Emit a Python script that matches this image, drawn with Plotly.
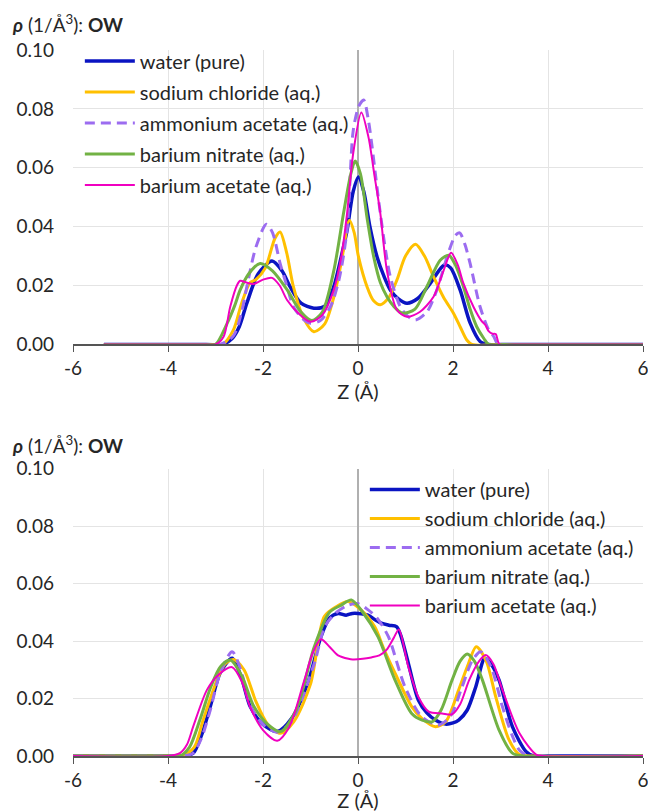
import plotly.graph_objects as go

# ---------------- data: top panel ----------------
top_water_z = [-5.35, -3.2, -2.85, -2.65, -2.5, -2.34, -2.1, -1.81, -1.6, -1.43, -1.2, -0.93, -0.7, -0.51, -0.35, -0.23, -0.1, 0.01, 0.12, 0.25, 0.40, 0.55, 0.68, 0.85, 1.03, 1.25, 1.52, 1.70, 1.82, 1.95, 2.15, 2.36, 2.57, 2.75, 3.2, 6]
top_water_r = [0, 0, 0, 0.002, 0.006, 0.014, 0.024, 0.0283, 0.025, 0.0196, 0.014, 0.0123, 0.013, 0.0196, 0.03, 0.0388, 0.052, 0.0569, 0.052, 0.04, 0.0298, 0.023, 0.0185, 0.0155, 0.014, 0.0155, 0.0207, 0.025, 0.027, 0.026, 0.0185, 0.0073, 0.001, 0, 0, 0]

top_nacl_z = [-5.35, -3.2, -2.85, -2.62, -2.45, -2.27, -2.15, -1.95, -1.75, -1.64, -1.5, -1.36, -1.15, -0.93, -0.7, -0.51, -0.35, -0.18, -0.08, 0.01, 0.19, 0.32, 0.47, 0.65, 0.82, 1.0, 1.21, 1.4, 1.59, 1.8, 2.01, 2.15, 2.29, 2.4, 3.2, 6]
top_nacl_r = [0, 0, 0, 0.005, 0.014, 0.021, 0.022, 0.026, 0.036, 0.0382, 0.031, 0.0196, 0.009, 0.0043, 0.007, 0.016, 0.028, 0.0422, 0.038, 0.0298, 0.0196, 0.015, 0.0135, 0.016, 0.0219, 0.03, 0.034, 0.03, 0.023, 0.016, 0.0106, 0.006, 0.0015, 0, 0, 0]

top_amac_z = [-5.35, -3.2, -2.9, -2.62, -2.45, -2.34, -2.15, -1.93, -1.8, -1.64, -1.5, -1.36, -1.15, -1.0, -0.8, -0.58, -0.4, -0.23, -0.1, 0.02, 0.12, 0.22, 0.29, 0.38, 0.47, 0.58, 0.68, 0.89, 1.05, 1.21, 1.45, 1.66, 1.9, 2.05, 2.14, 2.25, 2.36, 2.57, 2.75, 2.86, 2.95, 3.3, 6]
top_amac_r = [0, 0, 0, 0.003, 0.011, 0.0196, 0.033, 0.0408, 0.038, 0.0275, 0.02, 0.0128, 0.0085, 0.0072, 0.008, 0.0128, 0.022, 0.039, 0.0727, 0.081, 0.083, 0.076, 0.068, 0.056, 0.0445, 0.032, 0.023, 0.0128, 0.0095, 0.0083, 0.011, 0.0185, 0.031, 0.037, 0.0379, 0.034, 0.0275, 0.0128, 0.005, 0.0026, 0, 0, 0]

top_bano_z = [-5.35, -3.2, -3.0, -2.76, -2.6, -2.48, -2.3, -2.06, -1.8, -1.49, -1.2, -0.97, -0.75, -0.51, -0.3, -0.15, -0.06, 0.05, 0.2, 0.33, 0.47, 0.61, 0.75, 0.93, 1.2, 1.45, 1.73, 1.91, 2.05, 2.22, 2.36, 2.5, 2.65, 2.75, 3.2, 6]
top_bano_r = [0, 0, 0, 0.007, 0.013, 0.0185, 0.024, 0.0275, 0.025, 0.0185, 0.011, 0.0081, 0.011, 0.025, 0.045, 0.058, 0.0623, 0.058, 0.042, 0.0298, 0.021, 0.0162, 0.013, 0.0106, 0.012, 0.0196, 0.0286, 0.0303, 0.027, 0.0196, 0.012, 0.006, 0.002, 0, 0, 0]

top_baac_z = [-5.35, -3.2, -3.0, -2.83, -2.69, -2.55, -2.48, -2.35, -2.2, -2.0, -1.81, -1.65, -1.49, -1.25, -1.0, -0.75, -0.51, -0.35, -0.23, -0.1, 0.07, 0.22, 0.35, 0.47, 0.61, 0.82, 1.03, 1.3, 1.59, 1.8, 1.96, 2.1, 2.22, 2.43, 2.6, 2.68, 2.75, 2.83, 2.9, 2.98, 3.3, 6]
top_baac_r = [0, 0, 0, 0.0026, 0.0128, 0.02, 0.0216, 0.021, 0.0205, 0.022, 0.0226, 0.02, 0.015, 0.0105, 0.0077, 0.01, 0.0185, 0.03, 0.0445, 0.065, 0.0788, 0.0704, 0.057, 0.0445, 0.025, 0.0117, 0.0094, 0.011, 0.0162, 0.025, 0.0311, 0.027, 0.0207, 0.0128, 0.008, 0.0066, 0.0045, 0.0036, 0.0035, 0, 0, 0]

# ---------------- data: bottom panel ----------------
bot_water_z = [-6, -4.0, -3.7, -3.47, -3.3, -3.11, -2.9, -2.65, -2.45, -2.27, -2.0, -1.70, -1.4, -1.06, -0.78, -0.6, -0.42, -0.25, -0.12, 0, 0.21, 0.35, 0.49, 0.65, 0.81, 0.9, 1.06, 1.27, 1.45, 1.63, 1.84, 2.0, 2.12, 2.3, 2.48, 2.67, 2.8, 2.97, 3.25, 3.54, 3.7, 4.0, 6]
bot_water_r = [0, 0, 0, 0.001, 0.007, 0.0172, 0.029, 0.034, 0.027, 0.0172, 0.011, 0.0085, 0.013, 0.0253, 0.0415, 0.048, 0.0496, 0.049, 0.0496, 0.0496, 0.049, 0.0475, 0.0462, 0.0455, 0.045, 0.042, 0.0322, 0.0195, 0.015, 0.0125, 0.0111, 0.0115, 0.0125, 0.016, 0.0241, 0.034, 0.032, 0.0264, 0.0102, 0.0015, 0, 0, 0]

bot_nacl_z = [-6, -4.0, -3.7, -3.45, -3.26, -3.0, -2.8, -2.62, -2.4, -2.15, -1.9, -1.63, -1.35, -1.0, -0.71, -0.45, -0.21, 0.05, 0.35, 0.55, 0.78, 1.13, 1.35, 1.63, 1.85, 2.12, 2.3, 2.49, 2.7, 2.9, 3.18, 3.4, 3.7, 6]
bot_nacl_r = [0, 0, 0, 0.003, 0.0125, 0.025, 0.032, 0.0336, 0.03, 0.019, 0.011, 0.0079, 0.012, 0.025, 0.0485, 0.052, 0.0537, 0.051, 0.045, 0.037, 0.0288, 0.0172, 0.013, 0.0102, 0.012, 0.023, 0.031, 0.038, 0.033, 0.0206, 0.0056, 0.0005, 0, 0]

bot_amac_z = [-6, -4.0, -3.7, -3.47, -3.3, -3.11, -2.9, -2.65, -2.45, -2.27, -2.0, -1.7, -1.4, -0.92, -0.7, -0.45, -0.2, 0, 0.2, 0.4, 0.64, 0.99, 1.34, 1.7, 1.95, 2.19, 2.4, 2.58, 2.8, 3.04, 3.25, 3.4, 3.6, 6]
bot_amac_r = [0, 0, 0, 0.001, 0.006, 0.016, 0.029, 0.0363, 0.029, 0.0175, 0.011, 0.0083, 0.012, 0.0322, 0.045, 0.05, 0.0525, 0.053, 0.051, 0.048, 0.0415, 0.024, 0.0137, 0.0108, 0.014, 0.024, 0.033, 0.0363, 0.031, 0.0172, 0.007, 0.002, 0, 0]

bot_bano_z = [-6, -4.0, -3.75, -3.55, -3.33, -3.1, -2.9, -2.69, -2.45, -2.2, -1.9, -1.63, -1.3, -0.92, -0.6, -0.35, -0.14, 0.1, 0.42, 0.78, 1.13, 1.35, 1.56, 1.75, 1.98, 2.15, 2.30, 2.45, 2.62, 2.97, 3.25, 3.5, 6]
bot_bano_r = [0, 0, 0, 0.003, 0.0125, 0.024, 0.031, 0.0334, 0.028, 0.0175, 0.011, 0.0085, 0.016, 0.038, 0.05, 0.0525, 0.0543, 0.05, 0.0415, 0.0264, 0.0148, 0.0125, 0.0119, 0.016, 0.0264, 0.033, 0.0355, 0.033, 0.0264, 0.009, 0.001, 0, 0]

bot_baac_z = [-6, -4.0, -3.75, -3.6, -3.47, -3.18, -2.94, -2.65, -2.45, -2.27, -2.0, -1.7, -1.45, -1.13, -0.95, -0.78, -0.6, -0.42, -0.2, -0.11, 0.1, 0.28, 0.45, 0.6, 0.75, 0.86, 1.06, 1.27, 1.49, 1.77, 1.98, 2.15, 2.34, 2.55, 2.69, 2.85, 3.04, 3.4, 3.75, 3.9, 6]
bot_baac_r = [0, 0, 0.001, 0.004, 0.0102, 0.023, 0.0282, 0.0309, 0.026, 0.017, 0.009, 0.0053, 0.01, 0.0264, 0.036, 0.0406, 0.038, 0.035, 0.0338, 0.0336, 0.0338, 0.0343, 0.035, 0.0369, 0.041, 0.044, 0.031, 0.0206, 0.0154, 0.0148, 0.0145, 0.018, 0.0264, 0.033, 0.0351, 0.032, 0.023, 0.0079, 0.0005, 0, 0]

series_names = ["water (pure)", "sodium chloride (aq.)", "ammonium acetate (aq.)",
                "barium nitrate (aq.)", "barium acetate (aq.)"]
x_ticks = [-6, -4, -2, 0, 2, 4, 6]
y_ticks = [0.00, 0.02, 0.04, 0.06, 0.08, 0.10]

top_data = [(top_water_z, top_water_r), (top_nacl_z, top_nacl_r), (top_amac_z, top_amac_r),
            (top_bano_z, top_bano_r), (top_baac_z, top_baac_r)]
bot_data = [(bot_water_z, bot_water_r), (bot_nacl_z, bot_nacl_r), (bot_amac_z, bot_amac_r),
            (bot_bano_z, bot_bano_r), (bot_baac_z, bot_baac_r)]

styles = [
    dict(color="#0a14c2", width=3.5, dash="solid"),
    dict(color="#ffc000", width=3, dash="solid"),
    dict(color="#9c6cf0", width=3, dash="10px,6px"),
    dict(color="#72b244", width=3, dash="solid"),
    dict(color="#f000c0", width=2, dash="solid"),
]

FONT = "Lato, 'Open Sans', sans-serif"
TXT = "#262626"

fig = go.Figure()
for i, (z, r) in enumerate(top_data):
    fig.add_trace(go.Scatter(x=z, y=r, mode="lines", name=series_names[i],
                             line=dict(shape="spline", smoothing=0.8, **styles[i]),
                             xaxis="x", yaxis="y", legend="legend",
                             legendgroup=f"t{i}"))
for i, (z, r) in enumerate(bot_data):
    fig.add_trace(go.Scatter(x=z, y=r, mode="lines", name=series_names[i],
                             line=dict(shape="spline", smoothing=0.8, **styles[i]),
                             xaxis="x2", yaxis="y2", legend="legend2",
                             legendgroup=f"b{i}"))

xcommon = dict(range=[-6, 6], tickvals=x_ticks, ticktext=[str(v) for v in x_ticks],
               showgrid=True, gridcolor="#e4e4e4", gridwidth=1,
               zeroline=True, zerolinecolor="#b0b0b0", zerolinewidth=1.5,
               showline=True, linecolor="#555555", linewidth=1.5,
               ticks="outside", ticklen=6, tickcolor="#555555", tickwidth=1.2,
               ticklabeloverflow="allow", automargin=False,
               tickfont=dict(size=19, color=TXT, family=FONT),
               title=dict(text="Z (Å)", font=dict(size=20, color=TXT, family=FONT), standoff=2))
ycommon = dict(range=[0, 0.10], tickvals=y_ticks, ticktext=[f"{v:.2f}" for v in y_ticks],
               showgrid=True, gridcolor="#e4e4e4", gridwidth=1,
               zeroline=False, showline=False, ticks="", automargin=False,
               ticklabelstandoff=18,
               tickfont=dict(size=19, color=TXT, family=FONT))

legcommon = dict(bgcolor="rgba(0,0,0,0)", borderwidth=0, itemwidth=50,
                 font=dict(size=20, color=TXT, family=FONT),
                 traceorder="grouped", xanchor="left", yanchor="top", itemclick=False)

fig.update_layout(
    width=648, height=812,
    margin=dict(l=73, r=5, t=50, b=56, autoexpand=False),
    paper_bgcolor="white", plot_bgcolor="white",
    font=dict(family=FONT, size=18, color=TXT),
    showlegend=True,
    xaxis=dict(anchor="y", domain=[0, 1], **xcommon),
    yaxis=dict(anchor="x", domain=[0.583, 1.0], **ycommon),
    xaxis2=dict(anchor="y2", domain=[0, 1], **xcommon),
    yaxis2=dict(anchor="x2", domain=[0.0, 0.4072], **ycommon),
    legend=dict(x=0.012, y=1.012, tracegroupgap=2.0, **legcommon),
    legend2=dict(x=0.512, y=0.405, tracegroupgap=0.0, **legcommon),
    annotations=[
        dict(text="<b><i>ρ</i></b> (1/Å<sup>3</sup>): <b>OW</b>", xref="paper", yref="paper",
             x=-63 / 570, y=(756 - 24) / 706, xanchor="left", yanchor="middle",
             showarrow=False, font=dict(size=19, color=TXT, family=FONT)),
        dict(text="<b><i>ρ</i></b> (1/Å<sup>3</sup>): <b>OW</b>", xref="paper", yref="paper",
             x=-63 / 570, y=(756 - 444) / 706, xanchor="left", yanchor="middle",
             showarrow=False, font=dict(size=19, color=TXT, family=FONT)),
    ],
)

fig.write_html("out.html", config={"displayModeBar": False},
               post_script="document.body.style.margin='0';document.body.style.overflow='hidden';")
